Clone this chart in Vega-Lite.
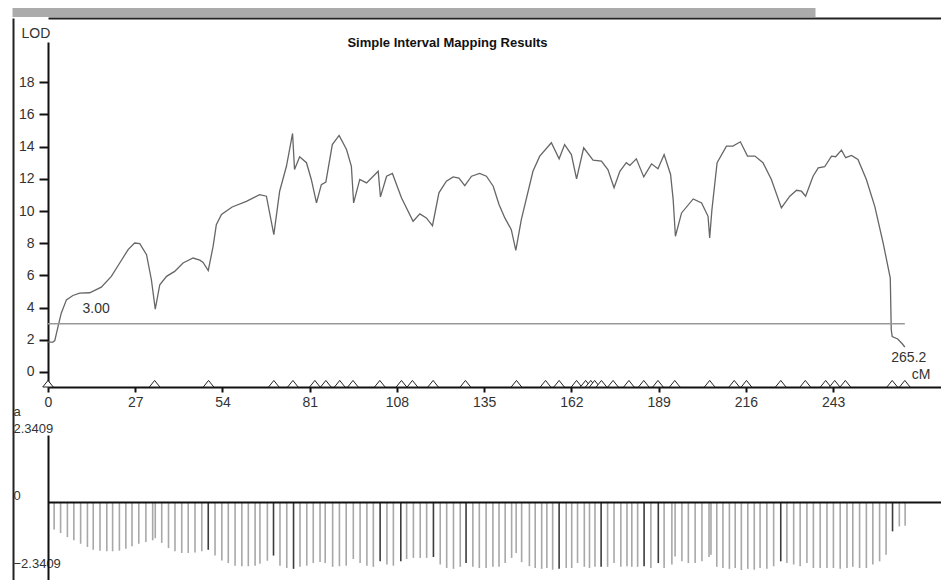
{
  "$schema": "https://vega.github.io/schema/vega-lite/v6.json",
  "width": 893,
  "height": 538,
  "autosize": {"type": "none"},
  "padding": {"left": 48, "top": 42, "right": 0, "bottom": 0},
  "background": "white",
  "title": {"text": "Simple Interval Mapping Results", "anchor": "middle", "frame": "group", "dx": -47, "offset": -38, "fontSize": 13, "fontWeight": "bold", "font": "Liberation Sans", "color": "#111"},
  "config": {"view": {"stroke": null}, "font": "Liberation Sans", "axis": {"grid": false, "labelFont": "Liberation Sans", "titleFont": "Liberation Sans", "labelColor": "#333", "titleColor": "#333"}},
  "datasets": {
    "lod": [
      {"cM":0,"lod":1.85},{"cM":1.5,"lod":1.85},{"cM":2.1,"lod":1.95},{"cM":3.1,"lod":2.82},{"cM":4.1,"lod":3.65},{"cM":5.7,"lod":4.48},{"cM":7.7,"lod":4.75},{"cM":9.8,"lod":4.9},{"cM":12.9,"lod":4.92},{"cM":16.5,"lod":5.27},{"cM":19.6,"lod":5.94},{"cM":22.2,"lod":6.77},{"cM":24.8,"lod":7.6},{"cM":26.8,"lod":8.01},{"cM":28.4,"lod":7.97},{"cM":30.5,"lod":7.29},{"cM":32.0,"lod":5.73},{"cM":33.2,"lod":3.9},{"cM":34.6,"lod":5.42},{"cM":36.7,"lod":5.94},{"cM":39.2,"lod":6.25},{"cM":41.8,"lod":6.77},{"cM":44.9,"lod":7.08},{"cM":47.0,"lod":6.95},{"cM":48.0,"lod":6.81},{"cM":49.6,"lod":6.3},{"cM":51.1,"lod":7.8},{"cM":52.1,"lod":9.15},{"cM":53.7,"lod":9.78},{"cM":57.0,"lod":10.25},{"cM":61.4,"lod":10.6},{"cM":65.5,"lod":11.02},{"cM":67.6,"lod":10.92},{"cM":69.9,"lod":8.53},{"cM":71.7,"lod":11.23},{"cM":73.8,"lod":12.78},{"cM":75.7,"lod":14.82},{"cM":76.3,"lod":12.58},{"cM":77.9,"lod":13.37},{"cM":80.0,"lod":13.0},{"cM":81.5,"lod":11.96},{"cM":83.1,"lod":10.5},{"cM":84.6,"lod":11.64},{"cM":86.0,"lod":11.79},{"cM":88.0,"lod":14.13},{"cM":90.1,"lod":14.7},{"cM":92.4,"lod":13.82},{"cM":93.9,"lod":12.78},{"cM":94.6,"lod":10.5},{"cM":96.5,"lod":11.96},{"cM":98.6,"lod":11.75},{"cM":102.2,"lod":12.47},{"cM":102.9,"lod":10.88},{"cM":104.8,"lod":12.16},{"cM":106.6,"lod":12.33},{"cM":109.4,"lod":10.82},{"cM":113.0,"lod":9.36},{"cM":115.1,"lod":9.82},{"cM":117.1,"lod":9.57},{"cM":119.0,"lod":9.09},{"cM":121.0,"lod":11.13},{"cM":123.3,"lod":11.85},{"cM":125.4,"lod":12.12},{"cM":127.2,"lod":12.04},{"cM":129.0,"lod":11.58},{"cM":131.1,"lod":12.16},{"cM":133.6,"lod":12.33},{"cM":135.7,"lod":12.16},{"cM":137.8,"lod":11.54},{"cM":139.6,"lod":10.4},{"cM":141.4,"lod":9.57},{"cM":143.4,"lod":8.84},{"cM":144.8,"lod":7.55},{"cM":146.5,"lod":9.46},{"cM":150.1,"lod":12.47},{"cM":152.2,"lod":13.41},{"cM":155.8,"lod":14.24},{"cM":158.2,"lod":13.24},{"cM":159.9,"lod":14.13},{"cM":162.0,"lod":13.51},{"cM":163.6,"lod":12.0},{"cM":165.8,"lod":13.93},{"cM":168.7,"lod":13.16},{"cM":171.3,"lod":13.1},{"cM":173.3,"lod":12.58},{"cM":175.2,"lod":11.44},{"cM":177.0,"lod":12.47},{"cM":179.0,"lod":13.0},{"cM":180.1,"lod":12.83},{"cM":182.1,"lod":13.24},{"cM":184.4,"lod":12.12},{"cM":186.8,"lod":12.93},{"cM":188.8,"lod":12.62},{"cM":190.7,"lod":13.51},{"cM":192.7,"lod":12.27},{"cM":193.5,"lod":10.71},{"cM":194.2,"lod":8.43},{"cM":196.1,"lod":9.88},{"cM":199.7,"lod":10.75},{"cM":202.3,"lod":10.5},{"cM":204.3,"lod":9.67},{"cM":204.8,"lod":8.32},{"cM":205.5,"lod":10.09},{"cM":207.1,"lod":13.0},{"cM":210.0,"lod":14.03},{"cM":212.0,"lod":14.03},{"cM":214.3,"lod":14.3},{"cM":216.5,"lod":13.41},{"cM":218.8,"lod":13.41},{"cM":221.3,"lod":13.0},{"cM":223.9,"lod":11.96},{"cM":227.0,"lod":10.19},{"cM":229.6,"lod":10.92},{"cM":231.7,"lod":11.29},{"cM":233.2,"lod":11.23},{"cM":234.5,"lod":10.92},{"cM":236.8,"lod":12.16},{"cM":238.4,"lod":12.68},{"cM":240.4,"lod":12.75},{"cM":242.5,"lod":13.41},{"cM":243.8,"lod":13.37},{"cM":245.6,"lod":13.78},{"cM":246.9,"lod":13.31},{"cM":248.7,"lod":13.45},{"cM":250.7,"lod":13.2},{"cM":253.3,"lod":11.96},{"cM":255.9,"lod":10.29},{"cM":258.5,"lod":8.01},{"cM":260.7,"lod":5.83},{"cM":261.0,"lod":2.62},{"cM":261.3,"lod":2.2},{"cM":263.0,"lod":2.05},{"cM":264.4,"lod":1.75},{"cM":265.2,"lod":1.55}
    ],
    "bars": [
      {"cM":1.9,"a":-0.94,"m":0},{"cM":3.9,"a":-1.06,"m":0},{"cM":6.0,"a":-1.2,"m":0},{"cM":8.0,"a":-1.31,"m":0},{"cM":10.1,"a":-1.43,"m":0},{"cM":12.2,"a":-1.54,"m":0},{"cM":14.0,"a":-1.64,"m":0},{"cM":16.1,"a":-1.67,"m":0},{"cM":18.2,"a":-1.69,"m":0},{"cM":20.0,"a":-1.69,"m":0},{"cM":22.1,"a":-1.67,"m":0},{"cM":24.1,"a":-1.6,"m":0},{"cM":26.0,"a":-1.52,"m":0},{"cM":28.1,"a":-1.43,"m":0},{"cM":30.3,"a":-1.37,"m":0},{"cM":32.4,"a":-1.31,"m":0},{"cM":33.2,"a":-1.24,"m":0},{"cM":35.2,"a":-1.4,"m":0},{"cM":37.3,"a":-1.58,"m":0},{"cM":39.3,"a":-1.69,"m":0},{"cM":41.4,"a":-1.75,"m":0},{"cM":43.4,"a":-1.75,"m":0},{"cM":45.5,"a":-1.73,"m":0},{"cM":47.6,"a":-1.69,"m":0},{"cM":49.6,"a":-1.64,"m":1},{"cM":51.7,"a":-1.84,"m":0},{"cM":53.8,"a":-2.01,"m":0},{"cM":55.8,"a":-2.1,"m":0},{"cM":57.9,"a":-2.19,"m":0},{"cM":60.0,"a":-2.21,"m":0},{"cM":62.0,"a":-2.21,"m":0},{"cM":64.1,"a":-2.19,"m":0},{"cM":65.6,"a":-2.12,"m":0},{"cM":67.9,"a":-2.02,"m":0},{"cM":69.8,"a":-1.84,"m":1},{"cM":71.8,"a":-2.19,"m":0},{"cM":73.9,"a":-2.27,"m":0},{"cM":76.0,"a":-2.3,"m":1},{"cM":78.0,"a":-2.23,"m":0},{"cM":80.1,"a":-2.19,"m":0},{"cM":82.1,"a":-2.1,"m":0},{"cM":84.2,"a":-2.06,"m":0},{"cM":85.8,"a":-2.1,"m":0},{"cM":88.1,"a":-2.23,"m":0},{"cM":90.2,"a":-2.21,"m":0},{"cM":92.3,"a":-2.19,"m":0},{"cM":94.5,"a":-1.96,"m":0},{"cM":96.6,"a":-2.1,"m":0},{"cM":98.7,"a":-2.19,"m":0},{"cM":100.7,"a":-2.23,"m":0},{"cM":102.8,"a":-2.04,"m":1},{"cM":104.9,"a":-2.15,"m":0},{"cM":106.9,"a":-2.19,"m":0},{"cM":109.2,"a":-2.04,"m":1},{"cM":111.0,"a":-1.96,"m":0},{"cM":113.1,"a":-1.92,"m":0},{"cM":115.2,"a":-1.92,"m":0},{"cM":117.2,"a":-1.92,"m":0},{"cM":119.3,"a":-1.89,"m":1},{"cM":121.4,"a":-2.15,"m":0},{"cM":123.4,"a":-2.27,"m":0},{"cM":125.5,"a":-2.3,"m":0},{"cM":127.6,"a":-2.23,"m":0},{"cM":129.4,"a":-2.1,"m":1},{"cM":131.5,"a":-2.23,"m":0},{"cM":133.5,"a":-2.27,"m":0},{"cM":135.6,"a":-2.27,"m":0},{"cM":137.7,"a":-2.23,"m":0},{"cM":139.6,"a":-2.23,"m":0},{"cM":141.5,"a":-2.1,"m":0},{"cM":143.5,"a":-1.92,"m":0},{"cM":144.9,"a":-1.75,"m":0},{"cM":146.6,"a":-2.07,"m":0},{"cM":149.0,"a":-2.21,"m":0},{"cM":150.8,"a":-2.27,"m":0},{"cM":152.8,"a":-2.3,"m":0},{"cM":154.4,"a":-2.27,"m":0},{"cM":156.2,"a":-2.33,"m":0},{"cM":158.2,"a":-2.3,"m":1},{"cM":160.4,"a":-2.27,"m":0},{"cM":162.1,"a":-2.27,"m":0},{"cM":163.9,"a":-2.1,"m":0},{"cM":166.0,"a":-2.23,"m":0},{"cM":167.6,"a":-2.27,"m":0},{"cM":169.3,"a":-2.23,"m":0},{"cM":171.2,"a":-2.23,"m":1},{"cM":173.2,"a":-2.23,"m":0},{"cM":175.2,"a":-2.1,"m":0},{"cM":177.3,"a":-2.23,"m":0},{"cM":179.2,"a":-2.21,"m":0},{"cM":180.7,"a":-2.23,"m":0},{"cM":182.5,"a":-2.23,"m":0},{"cM":184.5,"a":-2.21,"m":1},{"cM":186.6,"a":-2.27,"m":0},{"cM":188.9,"a":-2.1,"m":1},{"cM":190.7,"a":-2.27,"m":0},{"cM":193.1,"a":-2.15,"m":0},{"cM":194.1,"a":-1.87,"m":0},{"cM":196.2,"a":-2.04,"m":0},{"cM":198.2,"a":-2.1,"m":0},{"cM":200.3,"a":-2.1,"m":0},{"cM":202.4,"a":-2.04,"m":0},{"cM":204.6,"a":-1.89,"m":0},{"cM":205.2,"a":-1.81,"m":0},{"cM":207.0,"a":-2.23,"m":0},{"cM":208.9,"a":-2.27,"m":0},{"cM":210.9,"a":-2.3,"m":0},{"cM":212.7,"a":-2.27,"m":0},{"cM":214.6,"a":-2.34,"m":0},{"cM":216.6,"a":-2.3,"m":0},{"cM":218.6,"a":-2.33,"m":0},{"cM":220.4,"a":-2.27,"m":0},{"cM":222.5,"a":-2.3,"m":0},{"cM":224.6,"a":-2.21,"m":0},{"cM":226.8,"a":-2.04,"m":1},{"cM":228.7,"a":-2.1,"m":0},{"cM":230.8,"a":-2.15,"m":0},{"cM":232.8,"a":-2.21,"m":0},{"cM":234.9,"a":-2.1,"m":0},{"cM":236.9,"a":-2.27,"m":0},{"cM":239.0,"a":-2.27,"m":0},{"cM":241.1,"a":-2.27,"m":0},{"cM":243.1,"a":-2.27,"m":0},{"cM":245.2,"a":-2.3,"m":0},{"cM":247.3,"a":-2.27,"m":0},{"cM":249.1,"a":-2.23,"m":0},{"cM":251.2,"a":-2.27,"m":0},{"cM":253.3,"a":-2.27,"m":0},{"cM":255.3,"a":-2.15,"m":0},{"cM":257.4,"a":-2.04,"m":0},{"cM":259.4,"a":-1.81,"m":0},{"cM":261.4,"a":-1.0,"m":1},{"cM":263.5,"a":-0.83,"m":0},{"cM":265.3,"a":-0.81,"m":0}
    ],
    "markers": [
      {"cM":0},{"cM":33.0},{"cM":49.7},{"cM":69.9},{"cM":75.8},{"cM":82.6},{"cM":86.0},{"cM":90.3},{"cM":94.4},{"cM":102.7},{"cM":109.4},{"cM":112.8},{"cM":119.2},{"cM":129.2},{"cM":145.0},{"cM":154.0},{"cM":158.2},{"cM":163.6},{"cM":166.4},{"cM":168.0},{"cM":169.2},{"cM":171.3},{"cM":174.9},{"cM":179.8},{"cM":184.4},{"cM":188.8},{"cM":194.0},{"cM":204.8},{"cM":212.4},{"cM":216.2},{"cM":226.8},{"cM":234.4},{"cM":240.7},{"cM":243.5},{"cM":246.8},{"cM":261.3},{"cM":265.2}
    ]
  },
  "layer": [
    {
      "layer": [
        {
          "data": {"name": "lod"},
          "mark": {"type": "line", "color": "#666", "strokeWidth": 1.3},
          "encoding": {
            "x": {"field": "cM", "type": "quantitative",
              "scale": {"domain": [0, 276.4], "nice": false, "zero": false},
              "axis": {"orient": "bottom", "offset": -193, "values": [0,27,54,81,108,135,162,189,216,243], "tickSize": 5, "tickWidth": 2, "tickColor": "#111", "domainColor": "#111", "domainWidth": 2, "labelFontSize": 14, "labelPadding": 3, "labelFlush": false, "labelOverlap": false, "title": "cM", "titleFontSize": 14, "titleFontWeight": "normal", "titleAnchor": "start", "titleAlign": "right", "titleBaseline": "middle", "titleX": 882, "titleY": -13}},
            "y": {"field": "lod", "type": "quantitative",
              "scale": {"domain": [-0.934, 20.5], "range": [345, 0], "nice": false, "zero": false},
              "axis": {"orient": "left", "values": [0,2,4,6,8,10,12,14,16,18], "tickSize": 9, "tickWidth": 2, "tickColor": "#111", "domainColor": "#111", "domainWidth": 2, "labelFontSize": 14, "labelPadding": 5, "labelFlush": false, "labelOverlap": false, "title": "LOD", "titleAngle": 0, "titleFontSize": 14, "titleFontWeight": "normal", "titleAlign": "left", "titleBaseline": "middle", "titleAnchor": "start", "titleX": -27, "titleY": -9}}
          }
        },
        {
          "data": {"values": [{"cM": 0, "cM1": 265.2, "lod": 3}]},
          "mark": {"type": "rule", "color": "#999", "strokeWidth": 1.5},
          "encoding": {
            "x": {"field": "cM", "type": "quantitative"},
            "x2": {"field": "cM1"},
            "y": {"field": "lod", "type": "quantitative"}
          }
        },
        {
          "data": {"values": [{"cM": 10.7, "lod": 3, "label": "3.00"}]},
          "mark": {"type": "text", "align": "left", "baseline": "bottom", "dy": -8, "fontSize": 14, "color": "#333", "font": "Liberation Sans"},
          "encoding": {
            "x": {"field": "cM", "type": "quantitative"},
            "y": {"field": "lod", "type": "quantitative"},
            "text": {"field": "label"}
          }
        },
        {
          "data": {"values": [{"cM": 265.2, "lod": 1.55, "label": "265.2"}]},
          "mark": {"type": "text", "align": "center", "baseline": "middle", "dx": 4, "dy": 11, "fontSize": 14, "color": "#333", "font": "Liberation Sans"},
          "encoding": {
            "x": {"field": "cM", "type": "quantitative"},
            "y": {"field": "lod", "type": "quantitative"},
            "text": {"field": "label"}
          }
        },
        {
          "data": {"name": "markers"},
          "mark": {"type": "point", "shape": "M-1,0L0,-1.25L1,0Z", "filled": true, "fill": "white", "stroke": "#222", "strokeWidth": 1, "size": 110, "opacity": 1},
          "encoding": {
            "x": {"field": "cM", "type": "quantitative"},
            "y": {"datum": -0.934, "type": "quantitative"}
          }
        }
      ]
    },
    {
      "layer": [
        {
          "data": {"name": "bars"},
          "mark": {"type": "rule", "strokeWidth": 1.6},
          "encoding": {
            "x": {"field": "cM", "type": "quantitative",
              "scale": {"domain": [0, 276.4], "nice": false, "zero": false},
              "axis": {"orient": "top", "offset": 24, "domainColor": "#222", "domainWidth": 2, "labels": false, "ticks": false, "title": null}},
            "y": {"field": "a", "type": "quantitative",
              "scale": {"domain": [-2.687, 2.3409], "range": [538, 393], "nice": false, "zero": false},
              "axis": {"orient": "left", "values": [-2.3409, 0, 2.3409], "labelExpr": "datum.value == 0 ? '0' : format(datum.value, '.4f')", "tickSize": 0, "ticks": false, "domainColor": "#111", "domainWidth": 2, "labelAlign": "left", "labelBaseline": "bottom", "labelPadding": 35, "labelFontSize": 13, "labelFlush": false, "labelOverlap": false, "title": "a", "titleAngle": 0, "titleFontSize": 13, "titleFontWeight": "normal", "titleAlign": "left", "titleBaseline": "middle", "titleAnchor": "start", "titleX": -35, "titleY": 369}},
            "y2": {"datum": 0},
            "color": {"field": "m", "type": "nominal", "scale": {"domain": [0, 1], "range": ["#a8a8a8", "#3c3c3c"]}, "legend": null}
          }
        },
        {
          "data": {"values": [{"a": 0}]},
          "mark": {"type": "rule", "color": "#111", "strokeWidth": 2},
          "encoding": {
            "y": {"field": "a", "type": "quantitative"}
          }
        }
      ]
    },
    {
      "data": {"values": [{"f": 0}]},
      "mark": {"type": "rule", "opacity": 0},
      "encoding": {
        "x": {"datum": 0, "type": "quantitative", "scale": {"domain": [0, 1], "range": [-36, 767]}, "axis": {"orient": "top", "offset": 30, "domainColor": "#ababab", "domainWidth": 9, "labels": false, "ticks": false, "title": null}},
        "y": {"datum": 0, "type": "quantitative", "scale": {"domain": [0, 1], "range": [538, -24]}, "axis": {"orient": "left", "offset": 35, "domainColor": "#222", "domainWidth": 2, "labels": false, "ticks": false, "title": null}}
      }
    }
  ],
  "resolve": {"scale": {"x": "independent", "y": "independent"}, "axis": {"x": "independent", "y": "independent"}}
}
